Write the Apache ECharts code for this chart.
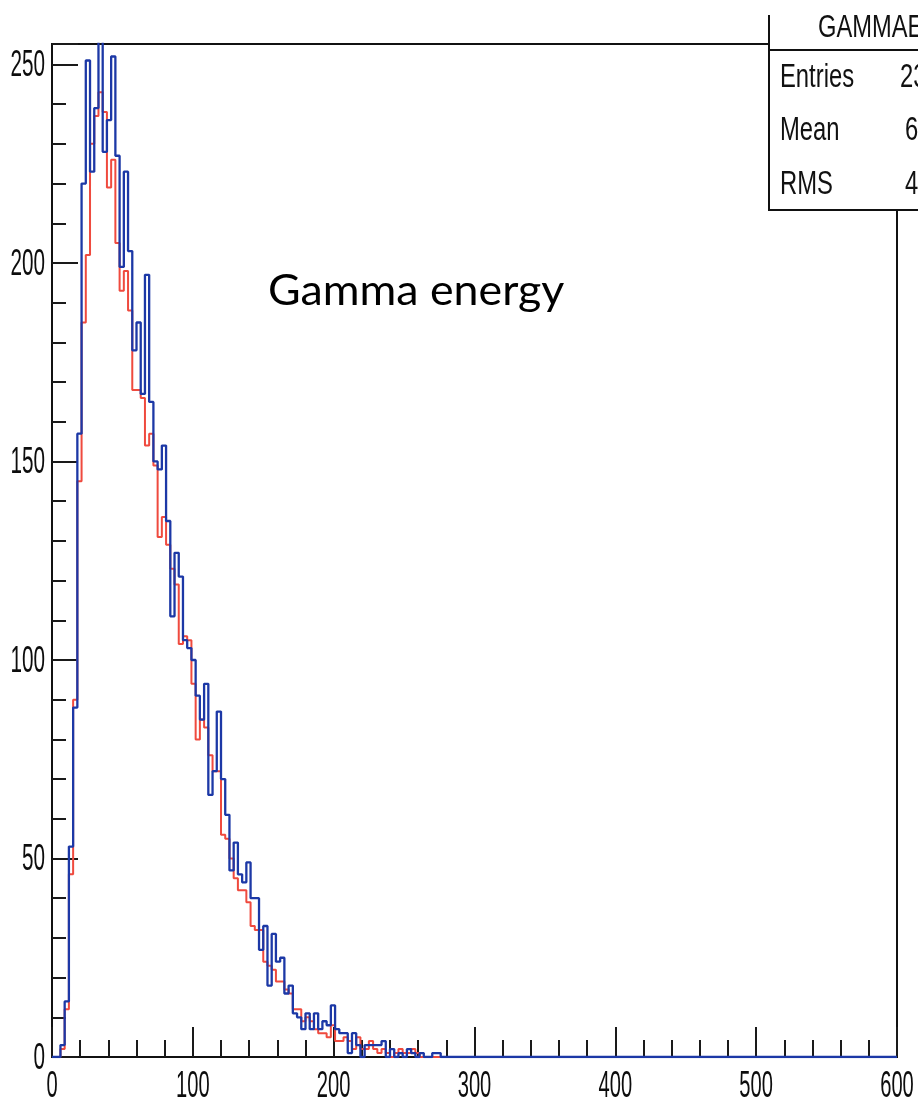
<!DOCTYPE html>
<html>
<head>
<meta charset="utf-8">
<script src="https://cdn.jsdelivr.net/npm/echarts@6/dist/echarts.min.js"></script>
<style>
  html, body { margin: 0; padding: 0; background: #ffffff; }
  #chart { width: 918px; height: 1101px; }
</style>
</head>
<body>
<div id="chart"></div>
<script>
// Histogram binning: 200 bins of width 3 over [0, 600]
const binWidth = 3;
const xRange = [0, 600];

// Bin contents, starting at bin 0 (x = 0..3); bins past the end of a list are empty
const redCounts = [
  0, 0, 2, 12, 46, 90, 145, 185, 202, 230,
  237, 243, 238, 219, 226, 205, 193, 198, 188, 168,
  168, 166, 154, 157, 149, 131, 136, 129, 123, 119,
  104, 106, 105, 94, 80, 85, 83, 76, 72, 72,
  56, 55, 50, 45, 42, 42, 39, 33, 32, 32,
  24, 23, 22, 19, 19, 17, 16, 12, 12, 9,
  10, 9, 7, 6, 6, 5, 8, 4, 4, 5,
  4, 2, 5, 2, 2, 4, 2, 1, 2, 1,
  0, 1, 2, 1, 1, 2, 1, 0, 0, 0
];
const blueCounts = [
  0, 0, 3, 14, 53, 88, 157, 220, 251, 223,
  239, 259, 228, 236, 252, 227, 199, 223, 203, 178,
  185, 167, 197, 165, 150, 148, 154, 135, 111, 127,
  121, 105, 103, 100, 91, 85, 94, 66, 72, 87,
  70, 61, 47, 54, 46, 44, 49, 40, 40, 27,
  33, 18, 31, 24, 25, 16, 18, 11, 10, 7,
  11, 7, 11, 7, 9, 8, 13, 7, 6, 6,
  1, 6, 3, 0, 3, 3, 3, 3, 4, 0,
  2, 0, 1, 0, 2, 1, 0, 1, 0, 0,
  1, 1, 0, 0
];

// Axis tick values that carry labels
const xTickValues = [0, 100, 200, 300, 400, 500, 600];
const yTickValues = [0, 50, 100, 150, 200, 250];

// Statistics box (its right side runs off the canvas)
const statsTitle = 'GAMMAENERGY';
const statsLabels = ['Entries', 'Mean', 'RMS'];
const statsValues = ['23', '6', '4'];

const annotationText = 'Gamma energy';

// ROOT-style top margin above the tallest bin of the first histogram
const yMax = Math.max(...redCounts) * 1.05;

function stepPoints(counts) {
  const nBins = Math.round((xRange[1] - xRange[0]) / binWidth);
  const pts = [];
  for (let k = 0; k < nBins; k++) {
    pts.push([xRange[0] + k * binWidth, k < counts.length ? counts[k] : 0]);
  }
  pts.push([xRange[1], 0]);
  return pts;
}

const chart = echarts.init(document.getElementById('chart'), null, { renderer: 'canvas' });

const tickColor = '#1a1a1a';
const grid = { left: 52, top: 44, width: 845, height: 1013 };

chart.setOption({
  animation: false,
  backgroundColor: '#ffffff',
  grid: Object.assign({ show: true, borderColor: '#111111', borderWidth: 2, backgroundColor: 'transparent' }, grid),
  xAxis: [{
    type: 'value', min: xRange[0], max: xRange[1], interval: 100,
    axisLine: { show: true, onZero: false, lineStyle: { color: '#111111', width: 2 } },
    axisTick: { show: true, inside: true, length: 30, lineStyle: { color: tickColor, width: 2 } },
    minorTick: { show: true, splitNumber: 5, length: 17, lineStyle: { color: tickColor, width: 2 } },
    axisLabel: { show: false },
    splitLine: { show: false }, minorSplitLine: { show: false }
  }],
  yAxis: [{
    type: 'value', min: 0, max: yMax, interval: 50, position: 'left',
    axisLine: { show: true, onZero: false, lineStyle: { color: '#111111', width: 2 } },
    axisTick: { show: true, inside: true, length: 26, lineStyle: { color: tickColor, width: 2 } },
    axisLabel: { show: false },
    splitLine: { show: false }
  }, {
    type: 'value', min: 0, max: yMax, interval: 10, position: 'left', offset: 0,
    axisLine: { show: false },
    axisTick: { show: true, inside: true, length: 14, lineStyle: { color: tickColor, width: 2 } },
    axisLabel: { show: false },
    splitLine: { show: false }
  }],
  series: [{
    name: 'red', type: 'line', step: 'end', xAxisIndex: 0, yAxisIndex: 0,
    data: stepPoints(redCounts), showSymbol: false, symbol: 'none', clip: true,
    lineStyle: { color: '#ef4a3e', width: 2 }, z: 3
  }, {
    name: 'blue', type: 'line', step: 'end', xAxisIndex: 0, yAxisIndex: 0,
    data: stepPoints(blueCounts), showSymbol: false, symbol: 'none', clip: true,
    lineStyle: { color: '#1c38a6', width: 2.3 }, z: 4
  }]
});

// Tick labels, stats box and annotation drawn as graphic text so the narrow ROOT lettering can be reproduced
const graphics = [];
const labelFont = '36px "Liberation Sans", Arial, sans-serif';

xTickValues.forEach(v => {
  const px = chart.convertToPixel({ xAxisIndex: 0 }, v);
  graphics.push({
    type: 'text', x: px, y: 1087, scaleX: 0.56, z: 10,
    style: { text: String(v), font: labelFont, fill: '#0d0d0d', textAlign: 'center', textVerticalAlign: 'middle' }
  });
});
yTickValues.forEach(v => {
  const py = chart.convertToPixel({ yAxisIndex: 0 }, v);
  graphics.push({
    type: 'text', x: 45, y: py + 1.5, scaleX: 0.56, z: 10,
    style: { text: String(v), font: '37px "Liberation Sans", Arial, sans-serif', fill: '#0d0d0d', textAlign: 'right', textVerticalAlign: 'middle' }
  });
});

// Statistics box: title row above the separator, then three equal rows
const boxLeft = 769, boxTop = 15, boxBottom = 210, boxRight = 930, titleLine = 50;
graphics.push({
  type: 'rect', z: 20,
  shape: { x: boxLeft, y: boxTop, width: boxRight - boxLeft, height: boxBottom - boxTop },
  style: { fill: '#ffffff', stroke: null }
});
graphics.push({
  type: 'polyline', z: 22,
  shape: { points: [[boxLeft, boxTop], [boxLeft, boxBottom], [boxRight, boxBottom]] },
  style: { stroke: '#111111', lineWidth: 2, fill: null }
});
graphics.push({
  type: 'line', z: 22,
  shape: { x1: boxLeft, y1: titleLine, x2: boxRight, y2: titleLine },
  style: { stroke: '#111111', lineWidth: 2 }
});
graphics.push({
  type: 'text', x: 818, y: 28, scaleX: 0.74, z: 23,
  style: { text: statsTitle, font: '32px "Liberation Sans", Arial, sans-serif', fill: '#111111', textAlign: 'left', textVerticalAlign: 'middle' }
});
// white band that trims the top of the title, as the canvas edge does
graphics.push({
  type: 'rect', z: 24,
  shape: { x: boxLeft - 2, y: 0, width: 160, height: boxTop },
  style: { fill: '#ffffff', stroke: null }
});
const rowHeight = (boxBottom - titleLine) / statsLabels.length;
statsLabels.forEach((t, i) => {
  const cy = titleLine + rowHeight * (i + 0.5) + 1;
  graphics.push({
    type: 'text', x: 780, y: cy, scaleX: 0.7, z: 23,
    style: { text: t, font: '34px "Liberation Sans", Arial, sans-serif', fill: '#111111', textAlign: 'left', textVerticalAlign: 'middle' }
  });
  graphics.push({
    type: 'text', x: i === 0 ? 900 : 905, y: cy, scaleX: 0.7, z: 23,
    style: { text: statsValues[i], font: '34px "Liberation Sans", Arial, sans-serif', fill: '#111111', textAlign: 'left', textVerticalAlign: 'middle' }
  });
});

// Annotation inside the plot
graphics.push({
  type: 'text', x: 268, y: 291, scaleX: 1.04, z: 30,
  style: { text: annotationText, font: '43px Lato, "Open Sans", sans-serif', fill: '#000000', textAlign: 'left', textVerticalAlign: 'middle' }
});

chart.setOption({ graphic: graphics });
</script>
</body>
</html>
